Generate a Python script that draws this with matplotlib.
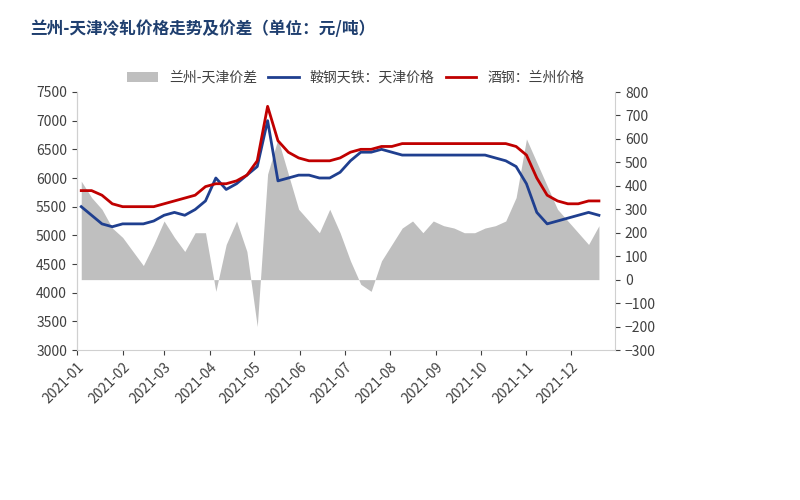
import matplotlib
matplotlib.use("Agg")
import matplotlib.pyplot as plt
import matplotlib.dates as mdates
import numpy as np
import pandas as pd

plt.rcParams['font.family'] = ['Noto Sans CJK SC', 'DejaVu Sans']

red = [5780,5780,5700,5550, 5500,5500,5500,5500, 5550,5600,5650,5700,
       5850,5900,5900,5950,6050, 6300,7250,6650,6450, 6350,6300,6300,6300,
       6350,6450,6500,6500,6550, 6550,6600,6600,6600, 6600,6600,6600,6600,
       6600,6600,6600,6600,6550, 6400,6000,5700,5600, 5550,5550,5600,5600]
blue = [5500,5350,5200,5150, 5200,5200,5200,5250, 5350,5400,5350,5450,
        5600,6000,5800,5900,6050, 6200,7000,5950,6000, 6050,6050,6000,6000,
        6100,6300,6450,6450,6500, 6450,6400,6400,6400, 6400,6400,6400,6400,
        6400,6400,6350,6300,6200, 5900,5400,5200,5250, 5300,5350,5400,5350]
spread = [420,350,300,220, 180,120,60,150, 250,180,120,200,
          200,-50,150,250,120, -200,450,600,450, 300,250,200,300,
          200,80,-20,-50,80, 150,220,250,200, 250,230,220,200,
          200,220,230,250,350, 600,500,400,300, 250,200,150,230]
dates = pd.date_range("2021-01-04", periods=len(red), freq="7D")
months = pd.date_range("2021-01-01", "2021-12-01", freq="MS")

fig = plt.figure(figsize=(8, 5), dpi=100)
ax = fig.add_axes([0.096, 0.3, 0.673, 0.516])
ax2 = ax.twinx()
ax2.fill_between(dates, 0, spread, color="#bfbfbf", lw=0, label="兰州-天津价差")
ax2.set_ylim(-300, 800)
ax2.set_yticks(range(-300, 801, 100))
ax.set_zorder(ax2.get_zorder() + 1)
ax.patch.set_visible(False)
l1, = ax.plot(dates, blue, color="#1f3f8f", lw=2, label="鞍钢天铁：天津价格")
l2, = ax.plot(dates, red, color="#c00000", lw=2, label="酒钢：兰州价格")
ax.set_ylim(3000, 7500)
ax.set_yticks(range(3000, 7501, 500))
ax.set_xlim(pd.Timestamp("2021-01-01"), pd.Timestamp("2021-12-31"))
ax.set_xticks(months)
ax.xaxis.set_major_formatter(mdates.DateFormatter("%Y-%m"))
for lab in ax.get_xticklabels():
    lab.set_rotation(45); lab.set_ha("right"); lab.set_rotation_mode("anchor")
for a in (ax, ax2):
    a.spines["top"].set_visible(False)
    a.tick_params(labelsize=10, colors="#404040")
    for s in ("left", "right", "bottom"):
        a.spines[s].set_color("#d0d0d0")
ax.spines["right"].set_visible(False)
ax2.spines["bottom"].set_visible(False)
h = [ax2.collections[0], l1, l2]
fig.legend(h, [x.get_label() for x in h], loc="center", bbox_to_anchor=(0.445, 0.845),
           ncol=3, frameon=False, fontsize=10, handlelength=2.2, columnspacing=0.8,
           labelcolor="#404040")
fig.text(0.038, 0.932, "兰州-天津冷轧价格走势及价差（单位：元/吨）", fontsize=12,
         fontweight="bold", color="#1f3f6f")
fig.savefig("out.png", dpi=100)
